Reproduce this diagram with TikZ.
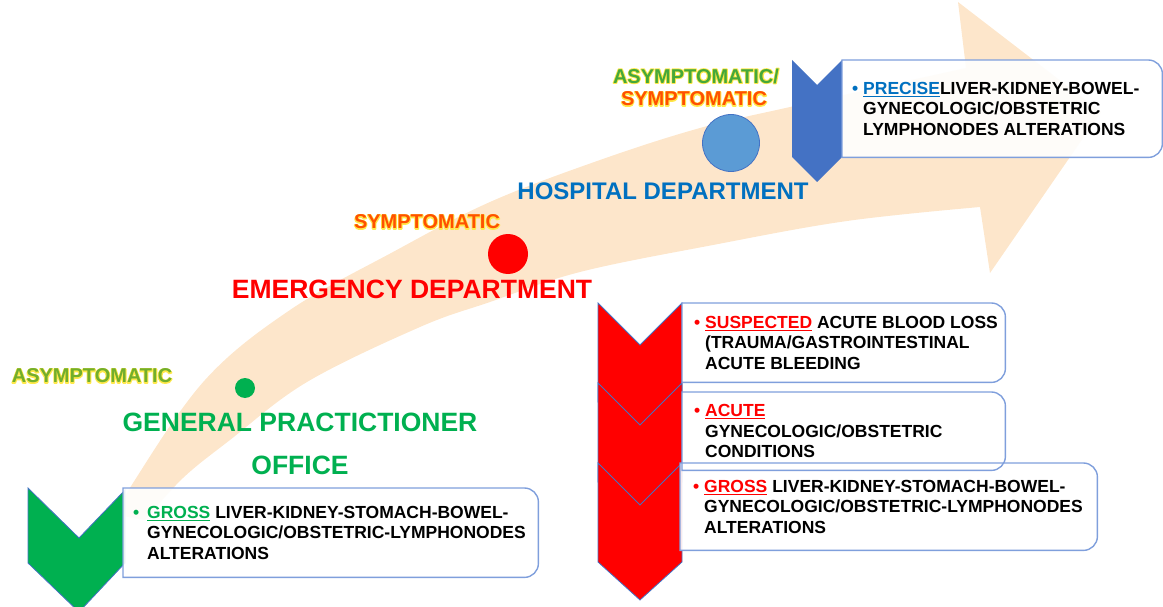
\documentclass[tikz,border=0pt]{standalone}
\usepackage{fontspec}
\setmainfont{Liberation Sans}
\newfontfamily\glowfont[FakeBold=9]{Liberation Sans Bold}
\definecolor{arrowcol}{HTML}{FDE6CB}
\definecolor{gpgreen}{HTML}{00B050}
\definecolor{edred}{HTML}{FF0000}
\definecolor{hblue}{HTML}{0070C0}
\definecolor{chevblue}{HTML}{4472C4}
\definecolor{circblue}{HTML}{5B9BD5}
\definecolor{boxline}{HTML}{7F9FDC}
\definecolor{glowy}{HTML}{FFE84A}
\definecolor{symorange}{HTML}{FF5000}
\definecolor{asygreen}{HTML}{72AE2C}
\definecolor{asygreenb}{HTML}{45A83A}
\newcommand\myglowtext[2]{\rlap{\special{pdf:code 1 j}\glowfont\color{glowy}#2}\textcolor{#1}{#2}}
\newcommand\myboxpath[1]{(#1.north west) -- ([xshift=-14pt]#1.north east) arc[start angle=90,end angle=0,radius=14pt] -- ([yshift=14pt]#1.south east) arc[start angle=0,end angle=-90,radius=14pt] -- (#1.south west) -- cycle}
\begin{document}
\begin{tikzpicture}[x=1pt,y=-1pt,
  chevron/.style={line width=0.8pt, draw=chevblue, line join=miter},
  boxshape/.style={rectangle, draw=none, inner sep=0, anchor=north west},
  boxfill/.style={fill=white, fill opacity=0.9},
  boxborder/.style={draw=boxline, line width=1.4pt},
  boxtext/.style={font=\bfseries\fontsize{17.5}{20.5}\selectfont, align=left, anchor=west, inner sep=0, text=black},
  bigtitle/.style={font=\bfseries\fontsize{26.5}{30}\selectfont, inner sep=0},
  midtitle/.style={font=\bfseries\fontsize{24}{28}\selectfont, inner sep=0},
  smalltitle/.style={font=\bfseries\fontsize{20}{22}\selectfont, inner sep=0},
  dot/.style={circle, inner sep=0}]
\useasboundingbox (0,0) rectangle (1163,607);
% big curved arrow
\fill[arrowcol] plot[smooth, tension=0.6] coordinates {(118,515) (133,483) (205,380) (290,310) (393,252) (490,202) (600,160) (700,128) (790,107) (880,87) (966,68)}
  -- (958,2) -- (1101,112) -- (990,273) -- (980,207)
  -- plot[smooth, tension=0.6] coordinates {(980,207) (847,221) (713,245) (580,272) (490,302) (420,327) (307,382) (230,440) (183,478) (145,520)} -- cycle;
% circles
\node[dot, fill=gpgreen, minimum size=20pt] (gpdot) at (245,388) {};
\node[dot, fill=edred, minimum size=40pt] (eddot) at (508,254) {};
\node[dot, fill=circblue, draw=chevblue, line width=0.8pt, minimum size=57pt] (hdot) at (731,143) {};
% labels
\node[smalltitle] (asy1) at (92,376) {\myglowtext{asygreen}{ASYMPTOMATIC}};
\node[bigtitle, text=gpgreen] (gp1) at (300,422) {GENERAL PRACTICTIONER};
\node[bigtitle, text=gpgreen] (gp2) at (300,465) {OFFICE};
\node[smalltitle] (sym1) at (427,222) {\myglowtext{symorange}{SYMPTOMATIC}};
\node[bigtitle, text=edred] (ed) at (412,289) {EMERGENCY DEPARTMENT};
\node[midtitle, text=hblue] (hd) at (663,191) {HOSPITAL DEPARTMENT};
\node[smalltitle] (asy2) at (696,76) {\myglowtext{asygreenb}{ASYMPTOMATIC/}};
\node[smalltitle] (sym2) at (694,99) {\myglowtext{symorange}{SYMPTOMATIC}};
% chevrons
\filldraw[chevron, fill=gpgreen] (28,488) -- (79,538) -- (125,490) -- (125,563) -- (79,612) -- (28,563) -- cycle;
\fill[chevblue] (792,60) -- (817,85) -- (842,60) -- (842,157) -- (817,182) -- (792,157) -- cycle;
\foreach \t in {303,383,463}{
  \filldraw[chevron, fill=edred] (598,\t) -- (640,\t+42) -- (682,\t) -- (682,\t+99) -- (640,\t+137) -- (598,\t+99) -- cycle;}
% boxes
\node[boxshape, minimum width=415pt, minimum height=89pt] (gbox) at (123,488) {};
\node[boxshape, minimum width=320pt, minimum height=97pt] (hbox) at (842,60) {};
\node[boxshape, minimum width=323pt, minimum height=79pt] (rbox1) at (682,303) {};
\node[boxshape, minimum width=323pt, minimum height=78pt] (rbox2) at (682,392) {};
\node[boxshape, minimum width=417pt, minimum height=87pt] (rbox3) at (680,463) {};
\foreach \b in {gbox,hbox,rbox1,rbox2,rbox3}{\path[boxfill] \myboxpath{\b};}
\foreach \b in {gbox,hbox,rbox1,rbox2,rbox3}{\draw[boxborder] \myboxpath{\b};}
% box texts
\node[boxtext] (gtext) at ([xshift=24pt]gbox.west) {\llap{\textcolor{gpgreen}{\textbullet}\hspace{8pt}}\textcolor{gpgreen}{\underline{GROSS}} LIVER-KIDNEY-STOMACH-BOWEL-\\GYNECOLOGIC/OBSTETRIC-LYMPHONODES\\ALTERATIONS};
\node[boxtext] (htext) at ([xshift=21pt]hbox.west) {\llap{\textcolor{hblue}{\textbullet}\hspace{5pt}}\textcolor{hblue}{\underline{PRECISE}}LIVER-KIDNEY-BOWEL-\\GYNECOLOGIC/OBSTETRIC\\LYMPHONODES ALTERATIONS};
\node[boxtext] (rtext1) at ([xshift=23pt]rbox1.west) {\llap{\textcolor{edred}{\textbullet}\hspace{5pt}}\textcolor{edred}{\underline{SUSPECTED}} ACUTE BLOOD LOSS\\(TRAUMA/GASTROINTESTINAL\\ACUTE BLEEDING};
\node[boxtext] (rtext2) at ([xshift=23pt]rbox2.west) {\llap{\textcolor{edred}{\textbullet}\hspace{5pt}}\textcolor{edred}{\underline{ACUTE}}\\GYNECOLOGIC/OBSTETRIC\\CONDITIONS};
\node[boxtext] (rtext3) at ([xshift=24pt]rbox3.west) {\llap{\textcolor{edred}{\textbullet}\hspace{5pt}}\textcolor{edred}{\underline{GROSS}} LIVER-KIDNEY-STOMACH-BOWEL-\\GYNECOLOGIC/OBSTETRIC-LYMPHONODES\\ALTERATIONS};
\end{tikzpicture}
\end{document}
